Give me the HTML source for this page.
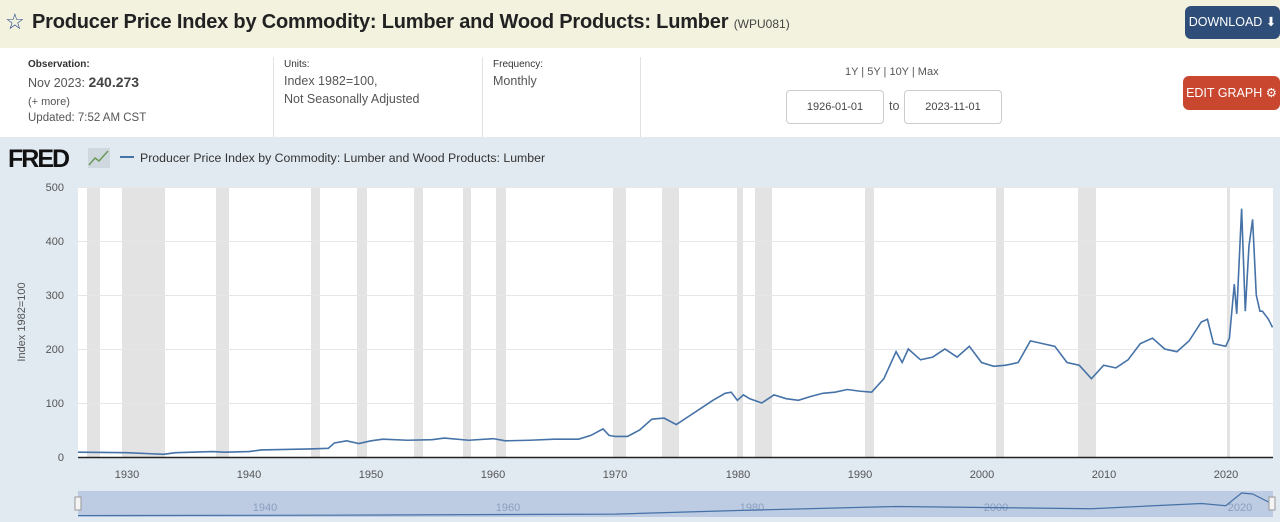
<!DOCTYPE html>
<html><head><meta charset="utf-8"><style>
body{margin:0;width:1280px;height:522px;overflow:hidden;font-family:"Liberation Sans",sans-serif;background:#fff;position:relative}
.hdr{position:absolute;left:0;top:0;width:1280px;height:48px;background:#f2f2df}
.t{position:absolute;left:32px;top:11px;font-size:20px;font-weight:bold;color:#222;letter-spacing:-0.2px}
.t small{font-size:12px;font-weight:normal;color:#444;letter-spacing:0}
.btn{position:absolute;color:#fff;font-size:12.5px;border-radius:6px;text-align:center}
.lab{position:absolute;font-size:10px;color:#333}
.val{position:absolute;font-size:12.5px;color:#555;line-height:18px}
.sep{position:absolute;top:57px;width:1px;height:80px;background:#e2e2e2}
.inp{position:absolute;top:90px;width:96px;height:32px;border:1px solid #ccc;border-radius:4px;font-size:11px;color:#444;line-height:32px;padding-left:0;text-align:center}
.chart{position:absolute;left:0;top:137px;width:1280px;height:385px;background:#e1e9f1}
</style></head><body>
<div class="hdr"><div style="position:absolute;left:5px;top:9px;font-size:22px;color:#2a4a8a">☆</div>
<div class="t">Producer Price Index by Commodity: Lumber and Wood Products: Lumber <small>(WPU081)</small></div>
<div class="btn" style="left:1185px;top:6px;width:95px;height:33px;line-height:33px;background:#2e4d79">DOWNLOAD ⬇</div></div>
<div class="lab" style="left:28px;top:59px;font-weight:bold">Observation:</div>
<div class="val" style="left:28px;top:73px">Nov 2023: <b style="font-size:14px;color:#444">240.273</b></div>
<div class="val" style="left:28px;top:93px;font-size:11px">(+ more)</div>
<div class="val" style="left:28px;top:109px;font-size:11.5px">Updated: 7:52 AM CST</div>
<div class="sep" style="left:273px"></div>
<div class="lab" style="left:284px;top:59px">Units:</div>
<div class="val" style="left:284px;top:72px">Index 1982=100,<br>Not Seasonally Adjusted</div>
<div class="sep" style="left:482px"></div>
<div class="lab" style="left:493px;top:59px">Frequency:</div>
<div class="val" style="left:493px;top:72px">Monthly</div>
<div class="sep" style="left:640px"></div>
<div class="val" style="left:845px;top:63px;font-size:11px">1Y | 5Y | 10Y | Max</div>
<div class="inp" style="left:786px">1926-01-01</div>
<div class="val" style="left:889px;top:97px">to</div>
<div class="inp" style="left:904px">2023-11-01</div>
<div class="btn" style="left:1183px;top:76px;width:97px;height:34px;line-height:34px;background:#c9472f">EDIT GRAPH ⚙</div>
<div class="chart"></div>
<svg style="position:absolute;left:0;top:0" width="1280" height="522">
<text x="8" y="167" font-size="25" font-weight="bold" font-family="Liberation Sans" fill="#111" letter-spacing="-2">FRED</text>
<rect x="88" y="148" width="22" height="20" fill="#cfd8df"/><polyline points="89,165 95,158 99,161 108,151" stroke="#6a9a5a" fill="none" stroke-width="1.5"/>
<line x1="120" y1="157" x2="134" y2="157" stroke="#4572a7" stroke-width="2"/>
<text x="140" y="162" font-size="12.3" fill="#333" font-family="Liberation Sans">Producer Price Index by Commodity: Lumber and Wood Products: Lumber</text>
<rect x="78" y="187" width="1195" height="270" fill="#fff"/>
<g fill="#e3e3e3">
<rect x="87" y="187" width="13" height="270"/><rect x="122" y="187" width="43" height="270"/><rect x="216" y="187" width="13" height="270"/><rect x="311" y="187" width="9" height="270"/><rect x="357" y="187" width="10" height="270"/><rect x="414" y="187" width="9" height="270"/><rect x="463" y="187" width="8" height="270"/><rect x="496" y="187" width="10" height="270"/><rect x="613" y="187" width="13" height="270"/><rect x="662" y="187" width="17" height="270"/><rect x="737" y="187" width="6" height="270"/><rect x="755" y="187" width="17" height="270"/><rect x="865" y="187" width="9" height="270"/><rect x="996" y="187" width="8" height="270"/><rect x="1078" y="187" width="18" height="270"/><rect x="1227" y="187" width="3" height="270"/></g>
<g stroke="#e6e6e6"><line x1="78" x2="1273" y1="187.5" y2="187.5"/><line x1="78" x2="1273" y1="241.5" y2="241.5"/><line x1="78" x2="1273" y1="295.5" y2="295.5"/><line x1="78" x2="1273" y1="349.5" y2="349.5"/><line x1="78" x2="1273" y1="403.5" y2="403.5"/></g>
<line x1="78" x2="1273" y1="457.5" y2="457.5" stroke="#222" stroke-width="1.5"/>
<g font-size="11" fill="#555" font-family="Liberation Sans" text-anchor="end"><text x="64" y="191">500</text><text x="64" y="245">400</text><text x="64" y="299">300</text><text x="64" y="353">200</text><text x="64" y="407">100</text><text x="64" y="461">0</text></g>
<text transform="translate(25,322) rotate(-90)" font-size="11" fill="#555" text-anchor="middle" font-family="Liberation Sans">Index 1982=100</text>
<g font-size="11" fill="#555" font-family="Liberation Sans" text-anchor="middle"><text x="127" y="478">1930</text><text x="249" y="478">1940</text><text x="371" y="478">1950</text><text x="493" y="478">1960</text><text x="615" y="478">1970</text><text x="738" y="478">1980</text><text x="860" y="478">1990</text><text x="982" y="478">2000</text><text x="1104" y="478">2010</text><text x="1226" y="478">2020</text></g>
<g transform="translate(78,457) scale(12.21,-0.54) translate(-1926,0)">
<polyline vector-effect="non-scaling-stroke" fill="none" stroke="#4572a7" stroke-width="1.6" points="1926,9 1930,8 1932,6 1933,5 1934,8 1937,10 1938,9 1940,10 1941,13 1945,15 1946.5,16 1947,26 1948,30 1949,25 1950,30 1951,33 1953,31 1955,32 1956,35 1958,31 1960,34 1961,30 1963,31 1965,33 1967,33 1968,40 1969,52 1969.5,40 1970,38 1971,38 1972,50 1973,70 1974,72 1975,60 1976,75 1977,90 1978,105 1979,118 1979.5,120 1980,105 1980.5,115 1981,108 1982,100 1983,115 1984,108 1985,105 1986,112 1987,118 1988,120 1989,125 1990,122 1991,120 1992,145 1993,195 1993.5,175 1994,200 1995,180 1996,185 1997,200 1998,185 1999,205 2000,175 2001,168 2002,170 2003,175 2004,215 2005,210 2006,205 2007,175 2008,170 2009,145 2010,170 2011,165 2012,180 2013,210 2014,220 2015,200 2016,195 2017,215 2018,250 2018.5,255 2019,210 2020,205 2020.3,220 2020.7,320 2020.9,265 2021.3,460 2021.6,270 2021.9,390 2022.2,440 2022.5,300 2022.8,270 2023,270 2023.5,255 2023.83,240"/></g>
<rect x="78" y="491" width="1195" height="26" fill="#bdcbe3"/>
<g font-size="11" fill="#8aa0c0" font-family="Liberation Sans" text-anchor="middle"><text x="265" y="511">1940</text><text x="508" y="511">1960</text><text x="752" y="511">1980</text><text x="996" y="511">2000</text><text x="1240" y="511">2020</text></g>
<g transform="translate(78,516) scale(12.21,-0.05) translate(-1926,0)"><polyline vector-effect="non-scaling-stroke" fill="none" stroke="#4572a7" stroke-width="1.2" points="1926,9 1946,16 1970,38 1980,110 1993,190 2009,145 2018,250 2020,205 2021.3,460 2022.2,440 2023.83,240"/></g>
<rect x="75" y="497" width="6" height="13" fill="#f4f4f4" stroke="#999"/><rect x="1269" y="497" width="6" height="13" fill="#f4f4f4" stroke="#999"/>
</svg>
</body></html>
